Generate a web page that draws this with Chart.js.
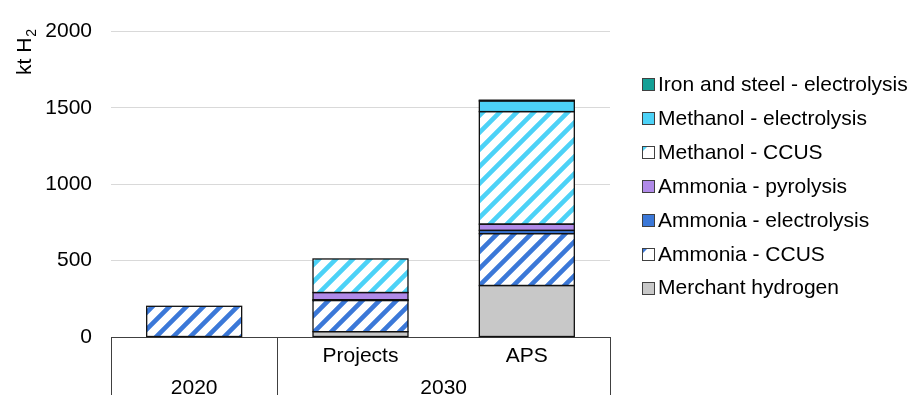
<!DOCTYPE html>
<html><head><meta charset="utf-8">
<script src="https://cdn.jsdelivr.net/npm/chart.js@4.4.1/dist/chart.umd.min.js"></script>
<style>html,body{margin:0;padding:0;background:#fff;overflow:hidden}#wrap{position:relative;width:915px;height:395px}</style>
</head><body><div id="wrap"><canvas id="c" width="915" height="395"></canvas></div>
<script>
// ---- data ----
const categories = ['2020', 'Projects', 'APS'];
const innerLabels = ['', 'Projects', 'APS'];
const groupLabels = ['2020', '2030'];
const groupSpans = [1, 2];
const yTickValues = [0, 500, 1000, 1500, 2000];
const yTitle = 'kt H';
const yTitleSub = '2';

const merchantHydrogen     = [null, 35, 337];
const ammoniaCCUS          = [201, 204, 340];
const ammoniaElectrolysis  = [null, 5, 21];
const ammoniaPyrolysis     = [null, 47, 41];
const methanolCCUS         = [null, 220, 737];
const methanolElectrolysis = [null, null, 70];
const ironSteelElectrolysis= [null, null, 5];

const FONT = '"Liberation Sans", Arial, sans-serif';
const canvas = document.getElementById('c');
const ctx0 = canvas.getContext('2d');

function hatch(color) {
  const s = 17;
  const c = document.createElement('canvas');
  c.width = s; c.height = s;
  const x = c.getContext('2d');
  x.fillStyle = '#fff'; x.fillRect(0, 0, s, s);
  x.strokeStyle = color; x.lineWidth = 4.6;
  x.beginPath();
  for (let k = -2; k <= 2; k++) { x.moveTo(k * s - s, 2 * s); x.lineTo(k * s + 2 * s, -s); }
  x.stroke();
  return ctx0.createPattern(c, 'repeat');
}

const C_GRAY = '#c8c8c8', C_BLUE = '#3b78d8', C_PURPLE = '#b08ae8', C_CYAN = '#4cd2f7', C_TEAL = '#14a096';

const datasets = [
  { label: 'Merchant hydrogen', data: merchantHydrogen, backgroundColor: C_GRAY, sw: C_GRAY, hatched: false },
  { label: 'Ammonia - CCUS', data: ammoniaCCUS, backgroundColor: hatch(C_BLUE), sw: C_BLUE, hatched: true },
  { label: 'Ammonia - electrolysis', data: ammoniaElectrolysis, backgroundColor: C_BLUE, sw: C_BLUE, hatched: false },
  { label: 'Ammonia - pyrolysis', data: ammoniaPyrolysis, backgroundColor: C_PURPLE, sw: C_PURPLE, hatched: false },
  { label: 'Methanol - CCUS', data: methanolCCUS, backgroundColor: hatch(C_CYAN), sw: C_CYAN, hatched: true },
  { label: 'Methanol - electrolysis', data: methanolElectrolysis, backgroundColor: C_CYAN, sw: C_CYAN, hatched: false },
  { label: 'Iron and steel - electrolysis', data: ironSteelElectrolysis, backgroundColor: C_TEAL, sw: C_TEAL, hatched: false }
].map(d => Object.assign(d, { borderWidth: 0, inflateAmount: 0, barPercentage: 0.571, categoryPercentage: 1 }));

const outlines = {
  id: 'outlines',
  afterDatasetsDraw(chart) {
    const ctx = chart.ctx;
    ctx.save();
    ctx.strokeStyle = '#111'; ctx.lineWidth = 1.3;
    chart.data.datasets.forEach((ds, di) => {
      const meta = chart.getDatasetMeta(di);
      meta.data.forEach((el, i) => {
        if (ds.data[i] == null) return;
        const p = el.getProps(['x', 'y', 'base', 'width'], true);
        const l = p.x - p.width / 2, t = Math.min(p.y, p.base), h = Math.abs(p.base - p.y);
        ctx.strokeRect(l, t, p.width, h);
      });
    });
    ctx.restore();
  }
};

const extras = {
  id: 'extras',
  afterDraw(chart) {
    const ctx = chart.ctx, a = chart.chartArea, xs = chart.scales.x;
    ctx.save();
    ctx.strokeStyle = '#404040'; ctx.lineWidth = 1;
    const step = (a.right - a.left) / categories.length;
    const bounds = [a.left];
    let acc = 0;
    groupSpans.forEach(n => { acc += n; bounds.push(a.left + acc * step); });
    ctx.beginPath();
    bounds.forEach(bx => { const px = Math.round(bx) + 0.5; ctx.moveTo(px, a.bottom); ctx.lineTo(px, 400); });
    ctx.stroke();
    ctx.fillStyle = '#000';
    ctx.font = '21px ' + FONT;
    ctx.textAlign = 'center'; ctx.textBaseline = 'alphabetic';
    innerLabels.forEach((t, i) => { if (t) ctx.fillText(t, xs.getPixelForValue(i), 362); });
    groupSpans.forEach((n, g) => {
      const cx = (bounds[g] + bounds[g + 1]) / 2;
      ctx.fillText(groupLabels[g], cx, 394);
    });
    // y title
    ctx.save();
    ctx.translate(31, 75); ctx.rotate(-Math.PI / 2);
    ctx.textAlign = 'left';
    ctx.font = '21px ' + FONT;
    ctx.fillText(yTitle, 0, 0);
    const w = ctx.measureText(yTitle).width;
    ctx.font = '14px ' + FONT;
    ctx.fillText(yTitleSub, w + 1, 5);
    ctx.restore();
    // legend
    const items = chart.data.datasets.slice().reverse();
    ctx.font = '21px ' + FONT;
    ctx.textAlign = 'left'; ctx.textBaseline = 'middle';
    items.forEach((d, i) => {
      const cy = 84 + i * 33.95;
      const bx = 642.5, by = Math.round(cy - 6) + 0.5, s = 12;
      ctx.fillStyle = d.hatched ? '#fff' : d.sw;
      ctx.fillRect(bx, by, s, s);
      if (d.hatched) {
        ctx.fillStyle = d.sw;
        ctx.beginPath(); ctx.moveTo(bx, by); ctx.lineTo(bx + 5, by); ctx.lineTo(bx, by + 5); ctx.closePath(); ctx.fill();
      }
      ctx.strokeStyle = '#404040'; ctx.lineWidth = 1;
      ctx.strokeRect(bx, by, s, s);
      ctx.fillStyle = '#000';
      ctx.fillText(d.label, 658, cy + 1);
    });
    ctx.restore();
  }
};

new Chart(canvas, {
  type: 'bar',
  data: { labels: categories, datasets },
  options: {
    responsive: false, animation: false, devicePixelRatio: 1,
    layout: { padding: { left: 0, right: 305, top: 22, bottom: 58 } },
    plugins: { legend: { display: false }, tooltip: { enabled: false } },
    scales: {
      x: { stacked: true, display: false },
      y: {
        stacked: true, min: 0, max: 2000,
        afterBuildTicks(s) { s.ticks = yTickValues.map(v => ({ value: v })); },
        afterFit(s) { s.width = 111; },
        border: { display: false },
        grid: { drawTicks: false, color: c => (c.tick && c.tick.value === 0) ? '#404040' : '#d9d9d9', lineWidth: 1 },
        ticks: { padding: 19, color: '#000', font: { family: FONT, size: 21 }, callback: v => String(v) }
      }
    }
  },
  plugins: [outlines, extras]
});
</script></body></html>
